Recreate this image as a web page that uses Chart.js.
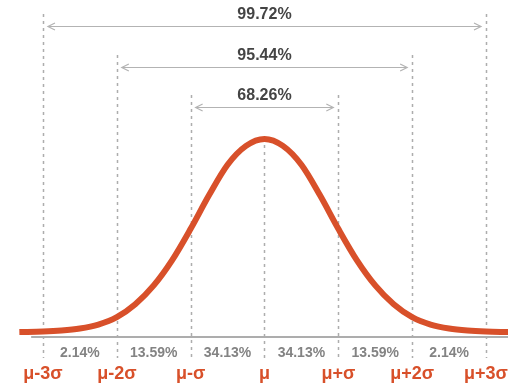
<!DOCTYPE html>
<html>
<head>
<meta charset="utf-8">
<script src="https://cdn.jsdelivr.net/npm/chart.js@4.4.1/dist/chart.umd.min.js"></script>
<style>
  html, body { margin: 0; padding: 0; background: #fff; }
  #wrap { width: 508px; height: 383px; position: relative; }
</style>
</head>
<body>
<div id="wrap"><canvas id="grafico"></canvas></div>
<script>
// valores (x em unidades de sigma, y = densidade relativa)
const posicoesX = [-3.32, -3, -2.75, -2.5, -2.25, -2, -1.75, -1.5, -1.25, -1, -0.75, -0.5, -0.25, 0,
                   0.25, 0.5, 0.75, 1, 1.25, 1.5, 1.75, 2, 2.25, 2.5, 2.75, 3, 3.3];
const densidade = [0.010, 0.011, 0.013, 0.017, 0.025, 0.040, 0.066, 0.104, 0.155, 0.218, 0.286, 0.347, 0.385, 0.399,
                   0.385, 0.347, 0.286, 0.218, 0.155, 0.104, 0.066, 0.040, 0.025, 0.017, 0.013, 0.011, 0.010];
const sigmaTicks = [-3, -2, -1, 0, 1, 2, 3];
const sigmaLabels = ['μ-3σ', 'μ-2σ', 'μ-σ', 'μ', 'μ+σ', 'μ+2σ', 'μ+3σ'];
const faixaCentros = [-2.5, -1.5, -0.5, 0.5, 1.5, 2.5];
const faixaLabels = ['2.14%', '13.59%', '34.13%', '34.13%', '13.59%', '2.14%'];
const intervalosK = [3, 2, 1];
const intervalosLabels = ['99.72%', '95.44%', '68.26%'];
const eixoX = [-3.16, 3.3];
const eixoY = [0, 0];

const LARANJA = '#d8502a';
const CINZA = '#adadad';

// topo de cada linha tracejada (px) e linhas das setas
const topoLinhas = { 3: 14, 2: 55, 1: 95, 0: 145 };
const setasY = { 3: 26, 2: 67, 1: 107 };
const textoY = { 3: 15, 2: 56, 1: 96 };

const pluginAnotacoes = {
    id: 'anotacoes',
    beforeDatasetsDraw(chart) {
        const { ctx, scales } = chart;
        const x = scales.x;
        ctx.save();
        ctx.strokeStyle = CINZA;
        ctx.lineWidth = 1.5;
        ctx.setLineDash([3, 4]);
        sigmaTicks.forEach(t => {
            const px = Math.round(x.getPixelForValue(t)) + 0.5;
            ctx.beginPath();
            ctx.moveTo(px, topoLinhas[Math.abs(t)]);
            ctx.lineTo(px, 358);
            ctx.stroke();
        });
        ctx.setLineDash([]);

        // setas
        intervalosK.forEach((k, i) => {
            const x1 = x.getPixelForValue(-k) + 5;
            const x2 = x.getPixelForValue(k) - 5;
            const y = setasY[k] + 0.5;
            ctx.strokeStyle = '#b3b3b3';
            ctx.lineWidth = 1.2;
            ctx.beginPath();
            ctx.moveTo(x1, y); ctx.lineTo(x2, y);
            ctx.moveTo(x1 + 7, y - 3.5); ctx.lineTo(x1, y); ctx.lineTo(x1 + 7, y + 3.5);
            ctx.moveTo(x2 - 7, y - 3.5); ctx.lineTo(x2, y); ctx.lineTo(x2 - 7, y + 3.5);
            ctx.stroke();
            ctx.fillStyle = '#444444';
            ctx.font = 'bold 16px "Liberation Sans", Arial, sans-serif';
            ctx.textAlign = 'center';
            ctx.textBaseline = 'middle';
            ctx.fillText(intervalosLabels[i], x.getPixelForValue(0), textoY[k]);
        });
        ctx.restore();
    },
    afterDatasetsDraw(chart) {
        const { ctx, scales } = chart;
        const x = scales.x;
        ctx.save();
        ctx.textAlign = 'center';
        ctx.textBaseline = 'middle';
        ctx.font = 'bold 14px "Liberation Sans", Arial, sans-serif';
        ctx.fillStyle = '#838383';
        faixaCentros.forEach((c, i) => {
            ctx.fillText(faixaLabels[i], x.getPixelForValue(c), 353);
        });
        ctx.font = 'bold 18px "Liberation Sans", Arial, sans-serif';
        ctx.fillStyle = LARANJA;
        sigmaTicks.forEach((t, i) => {
            ctx.fillText(sigmaLabels[i], x.getPixelForValue(t), 374);
        });
        ctx.restore();
    }
};

const ctx = document.getElementById('grafico').getContext('2d');
new Chart(ctx, {
    type: 'line',
    data: {
        datasets: [
            {
                label: 'curva',
                data: posicoesX.map((v, i) => ({ x: v, y: densidade[i] })),
                borderColor: LARANJA,
                borderWidth: 6,
                pointRadius: 0,
                cubicInterpolationMode: 'monotone',
                fill: false,
                borderCapStyle: 'butt'
            },
            {
                label: 'eixo',
                data: eixoX.map((v, i) => ({ x: v, y: eixoY[i] })),
                borderColor: CINZA,
                borderWidth: 2,
                pointRadius: 0,
                fill: false
            }
        ]
    },
    options: {
        responsive: true,
        maintainAspectRatio: false,
        animation: false,
        layout: { padding: 0 },
        plugins: { legend: { display: false }, tooltip: { enabled: false } },
        scales: {
            x: { type: 'linear', min: -3.582, max: 3.298, display: false },
            y: { min: -0.0927, max: 0.679, display: false }
        }
    },
    plugins: [pluginAnotacoes]
});
</script>
</body>
</html>
